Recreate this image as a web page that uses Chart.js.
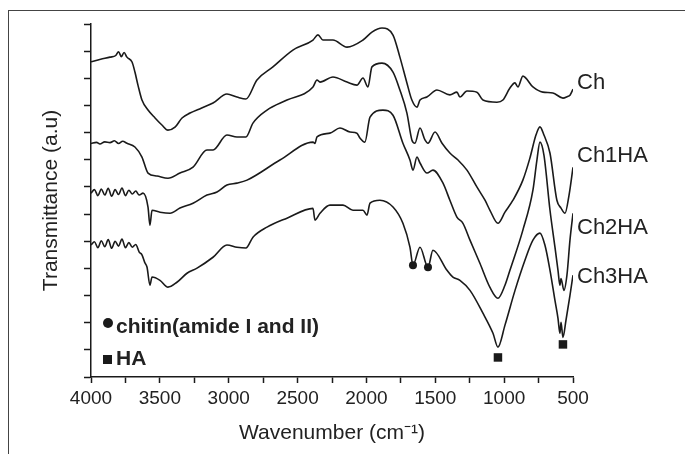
<!DOCTYPE html>
<html>
<head>
<meta charset="utf-8">
<script src="https://cdn.jsdelivr.net/npm/chart.js@4.4.0/dist/chart.umd.min.js"></script>
<style>
  html, body { margin: 0; padding: 0; background: #fff; }
  #wrap { position: relative; width: 685px; height: 454px; overflow: hidden; }
  #frame { position: absolute; left: 8px; top: 10px; right: 0; bottom: 0;
           border-top: 1px solid #444; border-left: 1px solid #444; }
  #ftir { position: absolute; left: 0; top: 0; }
</style>
</head>
<body>
<div id="wrap">
  <div id="frame"></div>
  <canvas id="ftir" width="685" height="454"></canvas>
</div>
<script>
// wavenumbers (cm-1) and transmittance (a.u.)
const chWave = [4000,3930,3862,3820,3800,3780,3760,3739,3702,3681,3659,3630,3586,3535,3485,3441,3390,3339,3281,3200,
  3114,3013,2940,2875,2795,2679,2534,2388,2352,2316,2243,2141,2025,1960,1887,1807,1757,1706,1670,1633,
  1611,1561,1488,1394,1343,1321,1270,1198,1154,1052,1009,958,922,900,864,791,719,646,573,540,522,500];
const chT = [11.61,11.70,11.78,11.84,11.98,11.80,11.95,11.78,11.60,11.23,10.75,10.20,9.83,9.54,9.28,9.09,9.20,9.54,9.72,9.90,
  10.09,10.42,10.31,10.24,10.94,11.42,12.04,12.41,12.60,12.41,12.41,12.15,12.41,12.70,12.85,12.59,11.78,10.83,10.20,9.94,
  10.20,10.31,10.57,10.39,10.49,10.31,10.53,10.49,10.20,10.12,10.20,10.64,10.83,10.68,11.08,10.68,10.49,10.46,10.27,10.33,10.38,10.60];

const ch1Wave = [4000,3960,3935,3900,3862,3830,3800,3770,3739,3681,3630,3586,3521,3441,3354,3259,3158,3114,3013,
  2940,2875,2824,2722,2577,2388,2359,2337,2243,2141,2069,2025,1989,1960,1887,1807,1757,1706,1670,1648,
  1611,1575,1553,1502,1451,1394,1335,1270,1197,1139,1103,1045,994,936,864,813,769,740,711,667,617,587,558,529,500];
const ch1T = [8.60,8.64,8.58,8.66,8.63,8.70,8.60,8.68,8.61,8.47,8.10,7.51,7.40,7.32,7.51,7.73,8.36,8.36,8.91,
  8.84,8.84,9.35,9.83,10.20,10.68,10.94,10.86,11.05,10.86,10.75,11.01,10.68,11.42,11.56,11.23,10.57,9.72,8.73,8.61,
  9.17,8.73,8.61,9.02,8.61,8.25,7.99,7.62,6.99,6.51,6.14,5.66,6.07,6.51,7.25,8.06,8.91,9.21,8.91,8.24,6.51,6.22,6.03,6.69,7.72];

const ch2Wave = [4000,3975,3950,3925,3900,3875,3850,3825,3800,3775,3750,3725,3700,3675,3650,3622,3586,3572,3557,3499,
  3426,3354,3259,3158,3085,3013,2940,2867,2628,2388,2374,2359,2265,2192,2119,2069,2047,2011,1974,1880,
  1807,1735,1684,1662,1633,1611,1560,1517,1444,1394,1343,1299,1248,1176,1103,1045,994,958,864,791,
  762,740,711,667,631,609,595,587,566,544,522,500];
const ch2T = [6.77,6.90,6.68,6.92,6.70,6.95,6.66,6.90,6.72,6.96,6.68,6.88,6.74,6.85,6.70,6.77,6.26,5.59,6.14,6.07,
  6.03,6.22,6.40,6.70,6.81,7.07,7.14,7.25,7.99,8.65,8.60,8.84,8.98,9.17,9.02,8.98,8.80,8.65,9.57,9.83,
  9.64,8.61,7.99,7.62,8.10,7.88,7.51,7.62,7.14,6.51,5.89,5.66,5.04,4.19,3.30,2.90,3.38,3.93,5.41,6.88,
  7.99,8.65,8.17,6.14,4.78,3.93,3.38,3.63,3.19,3.75,5.04,6.03];

const ch3Wave = [4000,3975,3950,3925,3900,3875,3850,3825,3800,3775,3750,3725,3700,3675,3650,3630,3610,3593,3572,3557,
  3499,3441,3376,3303,3230,3114,3013,2940,2875,2824,2722,2577,2388,2374,2337,2265,2170,2098,2025,1996,
  1974,1902,1807,1735,1684,1662,1611,1553,1517,1415,1372,1321,1248,1154,1081,1045,994,921,849,791,
  740,704,667,631,609,595,587,573,551,522,500];
const ch3T = [4.86,4.98,4.76,5.02,4.80,5.06,4.74,5.00,4.82,5.08,4.76,4.95,4.78,4.88,4.60,4.50,4.22,4.04,3.38,3.68,
  3.56,3.31,3.49,3.82,4.01,4.41,4.86,4.78,4.75,5.15,5.52,5.85,6.21,5.78,6.03,6.33,6.33,6.14,6.14,5.96,
  6.40,6.51,6.26,5.66,4.78,4.12,4.78,4.04,4.67,3.93,3.68,3.56,3.19,2.35,1.61,1.10,1.91,3.19,4.30,5.04,
  5.30,4.86,3.93,2.82,2.16,1.61,2.01,1.46,2.09,3.01,3.75];

// band markers
const amideWave = [1662, 1553];
const amideT = [4.12, 4.04];
const haWave = [1045, 573];
const haT = [0.72, 1.20];

const seriesNames = ["Ch", "Ch1HA", "Ch2HA", "Ch3HA"];
const xTicksMin = 500, xTicksMax = 4000;

const ink = "#1a1a1a";
const pts = (xs, ys) => xs.map((x, i) => ({ x: x, y: ys[i] }));

const lineSet = (name, xs, ys) => ({
  type: "line",
  label: name,
  data: pts(xs, ys),
  borderColor: ink,
  borderWidth: 1.6,
  pointRadius: 0,
  cubicInterpolationMode: "monotone",
  fill: false
});

// curve names next to the line ends + the inset key
const sideLabels = {
  id: "sideLabels",
  afterDatasetsDraw(chart) {
    const ctx = chart.ctx;
    const x0 = chart.chartArea.right + 4;
    const ys = [83, 156, 228, 277];
    ctx.save();
    ctx.fillStyle = "#222";
    ctx.textBaseline = "middle";
    ctx.font = "22px 'Liberation Sans', Arial, sans-serif";
    seriesNames.forEach((n, i) => ctx.fillText(n, x0, ys[i]));

    // key
    ctx.fillStyle = ink;
    ctx.beginPath();
    ctx.arc(108, 323, 5, 0, Math.PI * 2);
    ctx.fill();
    ctx.fillRect(103, 355, 9, 9);
    ctx.fillStyle = "#222";
    ctx.font = "bold 21px 'Liberation Sans', Arial, sans-serif";
    ctx.fillText("chitin(amide I and II)", 116, 327);
    ctx.fillText("HA", 116, 359);
    ctx.restore();
  }
};

const ctx = document.getElementById("ftir").getContext("2d");
const ftirChart = new Chart(ctx, {
  data: {
    datasets: [
      lineSet("Ch", chWave, chT),
      lineSet("Ch1HA", ch1Wave, ch1T),
      lineSet("Ch2HA", ch2Wave, ch2T),
      lineSet("Ch3HA", ch3Wave, ch3T),
      {
        type: "scatter",
        label: "chitin(amide I and II)",
        data: pts(amideWave, amideT),
        pointStyle: "circle",
        pointRadius: 4,
        backgroundColor: ink,
        borderColor: ink,
        borderWidth: 0
      },
      {
        type: "scatter",
        label: "HA",
        data: pts(haWave, haT),
        pointStyle: "rect",
        pointRadius: 6,
        backgroundColor: ink,
        borderColor: ink,
        borderWidth: 0
      }
    ]
  },
  options: {
    responsive: false,
    animation: false,
    devicePixelRatio: 1,
    layout: { padding: { top: 24, left: 35, right: 112, bottom: 4 } },
    plugins: { legend: { display: false }, tooltip: { enabled: false } },
    scales: {
      x: {
        type: "linear",
        reverse: true,
        min: xTicksMin,
        max: xTicksMax,
        border: { color: ink, width: 1.5 },
        grid: { drawOnChartArea: false, color: ink, tickLength: 6, tickWidth: 1.5 },
        ticks: {
          stepSize: 250,
          autoSkip: false,
          maxRotation: 0,
          color: "#222",
          padding: 4,
          font: { family: "'Liberation Sans', Arial, sans-serif", size: 19 },
          callback: (v) => (v % 500 === 0 ? String(v) : "")
        },
        title: {
          display: true,
          text: "Wavenumber (cm\u207B\u00B9)",
          color: "#222",
          font: { family: "'Liberation Sans', Arial, sans-serif", size: 21 }
        },
        afterFit: (s) => { s.height = 73; }
      },
      y: {
        min: 0,
        max: 13,
        border: { color: ink, width: 1.5 },
        grid: { drawOnChartArea: false, color: ink, tickLength: 7, tickWidth: 1.5 },
        ticks: { stepSize: 1, display: false },
        title: {
          display: true,
          text: "Transmittance (a.u)",
          color: "#222",
          font: { family: "'Liberation Sans', Arial, sans-serif", size: 21 }
        },
        afterFit: (s) => { s.width = 56; }
      }
    }
  },
  plugins: [sideLabels]
});
</script>
</body>
</html>
